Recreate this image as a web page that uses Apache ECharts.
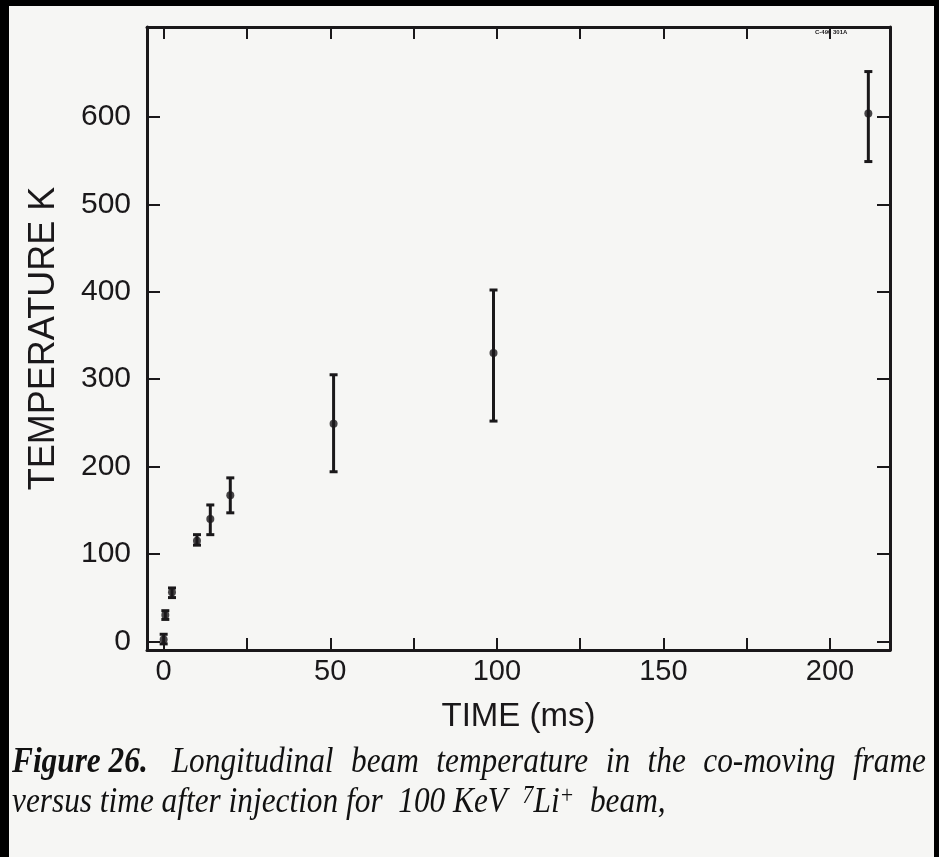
<!DOCTYPE html>
<html><head><meta charset="utf-8">
<script src="https://cdn.jsdelivr.net/npm/echarts@6/dist/echarts.min.js"></script>
<style>html,body{margin:0;padding:0;background:#f6f6f4}#c{width:939px;height:857px}</style>
</head><body><div id="c"></div>
<script>
// ---- data ----
const timeMs   = [0, 0.5, 2.5, 10, 14, 20, 51, 99, 211.5];
const tempK    = [2, 30, 56, 115, 140, 167, 249, 330, 604];
const tempLow  = [-3, 25, 50, 110, 122, 147, 194, 252, 549];
const tempHigh = [8, 35, 61, 122, 156, 187, 305, 402, 652];
const xTickValues  = [0, 25, 50, 75, 100, 125, 150, 175, 200];
const xLabelValues = [0, 50, 100, 150, 200];
const yTickValues  = [0, 100, 200, 300, 400, 500, 600];
const xAxisTitle = 'TIME (ms)';
const yAxisTitle = 'TEMPERATURE K';
const figureTag = 'C-490 301A';
const captionLead = 'Figure 26.';
const captionLine1Words = ['Longitudinal', 'beam', 'temperature', 'in', 'the', 'co-moving', 'frame'];

const ink = '#1a181a';
const chart = echarts.init(document.getElementById('c'), null, {renderer: 'canvas'});

const errData = timeMs.map((t, i) => [t, tempLow[i], tempHigh[i]]);
const ptData = timeMs.map((t, i) => [t, tempK[i]]);

const sans = 'Liberation Sans, Arial, sans-serif';
const serif = '"Liberation Serif", "Times New Roman", serif';
const capSize = 36, capScale = 0.87, capLeft = 12, capRight = 926;

// justified first caption line: measure words, spread gaps
const ctx = document.createElement('canvas').getContext('2d');
ctx.font = 'italic bold ' + capSize + 'px ' + serif;
const leadW = ctx.measureText(captionLead).width;
ctx.font = 'italic ' + capSize + 'px ' + serif;
const wordW = captionLine1Words.map(w => ctx.measureText(w).width);
const natural = leadW + wordW.reduce((a, b) => a + b, 0);
const target = (capRight - capLeft) / capScale;
const gap = (target - natural) / captionLine1Words.length;
const line1Graphics = [];
line1Graphics.push({type: 'text', x: capLeft, y: 745, scaleX: capScale,
  style: {text: captionLead, fontFamily: serif, fontStyle: 'italic', fontWeight: 'bold', fontSize: capSize, fill: '#111'}});
let cx = leadW + gap * 1.3;
const restGap = (target - natural - gap * 1.3) / (captionLine1Words.length - 1);
captionLine1Words.forEach((w, i) => {
  line1Graphics.push({type: 'text', x: capLeft + cx * capScale, y: 745, scaleX: capScale,
    style: {text: w, fontFamily: serif, fontStyle: 'italic', fontSize: capSize, fill: '#111'}});
  cx += wordW[i] + restGap;
});

chart.setOption({
  backgroundColor: '#f6f6f4',
  animation: false,
  grid: {left: 147, right: 49, top: 27, bottom: 207, containLabel: false},
  xAxis: [
    {type: 'value', position: 'bottom', min: -5, max: 218,
     name: xAxisTitle, nameLocation: 'middle', nameGap: 50,
     nameTextStyle: {fontSize: 33, fontFamily: sans, color: ink},
     axisLine: {show: true, onZero: false, lineStyle: {color: ink, width: 3}},
     axisTick: {show: true, inside: true, length: 12, customValues: xTickValues, lineStyle: {color: ink, width: 2}},
     axisLabel: {show: true, customValues: xLabelValues, margin: 7, fontSize: 29, fontFamily: sans, color: ink},
     splitLine: {show: false}},
    {type: 'value', position: 'top', min: -5, max: 218,
     axisLine: {show: true, onZero: false, lineStyle: {color: ink, width: 3}},
     axisTick: {show: true, inside: true, length: 12, customValues: xTickValues, lineStyle: {color: ink, width: 2}},
     axisLabel: {show: false}, splitLine: {show: false}}
  ],
  yAxis: [
    {type: 'value', position: 'left', min: -10, max: 703,
     name: yAxisTitle, nameLocation: 'middle', nameGap: 85, nameRotate: 90,
     nameTextStyle: {fontSize: 36, fontFamily: sans, color: ink},
     axisLine: {show: true, onZero: false, lineStyle: {color: ink, width: 3}},
     axisTick: {show: true, inside: true, length: 13, customValues: yTickValues, lineStyle: {color: ink, width: 2}},
     axisLabel: {show: true, customValues: yTickValues, margin: 16, fontSize: 30, fontFamily: sans, color: ink},
     splitLine: {show: false}},
    {type: 'value', position: 'right', min: -10, max: 703,
     axisLine: {show: true, onZero: false, lineStyle: {color: ink, width: 3}},
     axisTick: {show: true, inside: true, length: 13, customValues: yTickValues, lineStyle: {color: ink, width: 2}},
     axisLabel: {show: false}, splitLine: {show: false}}
  ],
  series: [
    {type: 'custom', xAxisIndex: 0, yAxisIndex: 0, data: errData,
     renderItem: function (params, api) {
       const x = api.value(0);
       const a = api.coord([x, api.value(1)]);
       const b = api.coord([x, api.value(2)]);
       const hw = 4;
       const st = {stroke: ink, lineWidth: 3};
       return {type: 'group', children: [
         {type: 'line', shape: {x1: a[0], y1: a[1], x2: b[0], y2: b[1]}, style: st},
         {type: 'line', shape: {x1: a[0] - hw, y1: a[1], x2: a[0] + hw, y2: a[1]}, style: st},
         {type: 'line', shape: {x1: b[0] - hw, y1: b[1], x2: b[0] + hw, y2: b[1]}, style: st}
       ]};
     }},
    {type: 'scatter', xAxisIndex: 0, yAxisIndex: 0, data: ptData,
     symbol: 'circle', symbolSize: 8, itemStyle: {color: ink}}
  ],
  graphic: [
    {type: 'rect', left: 0, top: 0, shape: {width: 9, height: 857}, style: {fill: '#000'}},
    {type: 'rect', left: 0, top: 0, shape: {width: 939, height: 6}, style: {fill: '#000'}},
    {type: 'rect', right: 0, top: 0, shape: {width: 5, height: 857}, style: {fill: '#000'}},
    {type: 'text', x: 815, y: 29, style: {text: figureTag, fontSize: 6, fontFamily: sans, fontWeight: 'bold', fill: ink}}
  ].concat(line1Graphics).concat([
    {type: 'text', x: capLeft, y: 784, scaleX: capScale,
     style: {
       text: '{i|versus time after injection for  100 KeV  }{s|7}{i|Li}{s|+}{i|  beam,}',
       rich: {
         i: {fontFamily: serif, fontStyle: 'italic', fontSize: capSize, fill: '#111', lineHeight: 38},
         s: {fontFamily: serif, fontStyle: 'italic', fontSize: 25, fill: '#111', verticalAlign: 'top', lineHeight: 38}
       }
     }}
  ])
});
</script>
</body></html>
